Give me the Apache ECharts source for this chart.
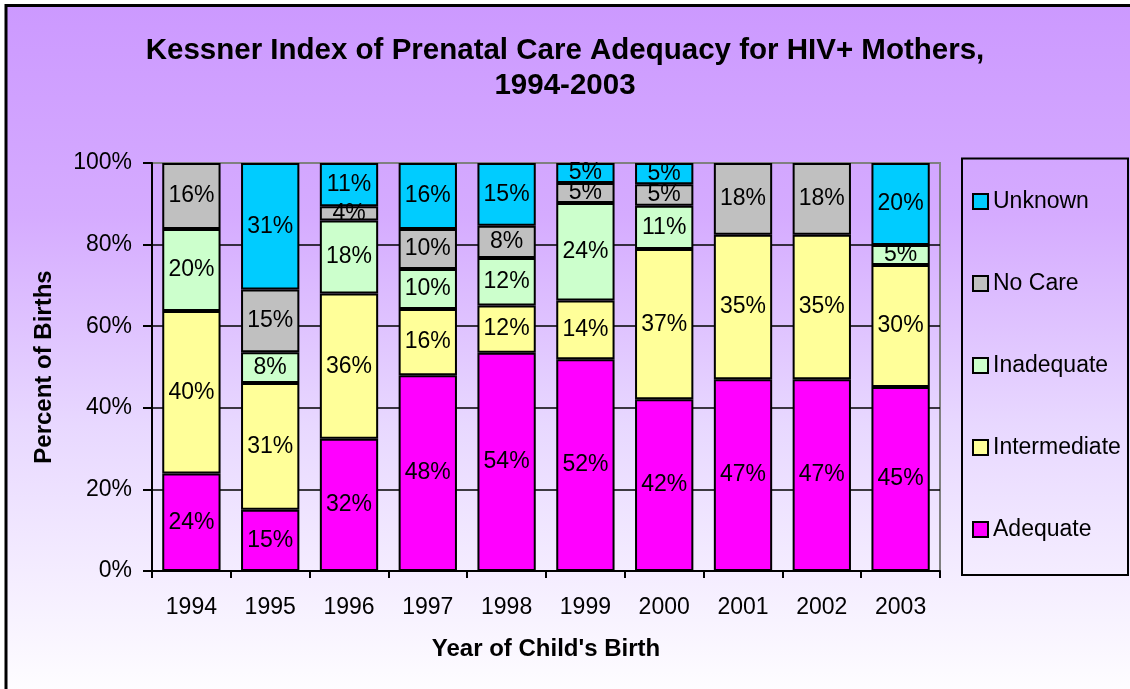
<!DOCTYPE html>
<html>
<head>
<meta charset="utf-8">
<title>Kessner Index of Prenatal Care Adequacy</title>
<script src="https://cdn.jsdelivr.net/npm/echarts@6.0.0/dist/echarts.min.js"></script>
<style>
  html, body { margin: 0; padding: 0; background: #fff; }
  #chart { width: 1130px; height: 689px; }
</style>
</head>
<body>
<div id="chart"></div>
<script>
// years on the x axis
const years = ['1994', '1995', '1996', '1997', '1998', '1999', '2000', '2001', '2002', '2003'];
// percent of births (null = no segment)
const adequate     = [23.9, 15.0, 32.4, 48.0, 53.5, 51.9, 42.1, 47.0, 47.0, 45.1];
const intermediate = [39.8, 31.1, 35.6, 16.2, 11.6, 14.4, 36.8, 35.4, 35.4, 29.9];
const inadequate   = [20.1,  7.5, 17.9,  9.8, 11.6, 23.9, 10.6, null, null,  4.9];
const noCare       = [16.2, 15.4,  3.5,  9.8,  7.9,  4.9,  5.3, 17.6, 17.6, null];
const unknown      = [null, 31.0, 10.6, 16.2, 15.4,  4.9,  5.2, null, null, 20.1];
const yTicks = [0, 20, 40, 60, 80, 100];

const font = 'Liberation Sans, Arial, sans-serif';

const chart = echarts.init(document.getElementById('chart'));

function seg(name, data, color) {
  return {
    name: name,
    type: 'bar',
    stack: 'total',
    data: data,
    barCategoryGap: '26%',
    itemStyle: { color: color, borderColor: '#000', borderWidth: 2 },
    label: {
      show: true,
      position: 'inside',
      color: '#000',
      fontFamily: font,
      fontSize: 23,
      formatter: p => (p.value == null ? '' : Math.round(p.value) + '%')
    },
    emphasis: { disabled: true }
  };
}

const option = {
  animation: false,
  backgroundColor: '#fff',
  graphic: [
    {
      type: 'rect',
      z: -10,
      shape: { x: 6, y: 5.5, width: 1140, height: 700 },
      style: {
        fill: new echarts.graphic.LinearGradient(0, 0, 0, 1, [
          { offset: 0, color: '#CC99FF' },
          { offset: 0.3, color: '#D5ABFF' },
          { offset: 0.6, color: '#E8D8FF' },
          { offset: 1, color: '#FFFFFF' }
        ]),
        stroke: '#000',
        lineWidth: 3
      }
    },
    {
      type: 'rect',
      z: 1,
      shape: { x: 962, y: 158.5, width: 166, height: 416.5 },
      style: { fill: 'none', stroke: '#000', lineWidth: 2 }
    }
  ],
  title: {
    text: 'Kessner Index of Prenatal Care Adequacy for HIV+ Mothers,\n1994-2003',
    left: 'center',
    top: 33,
    padding: [0, 0, 0, 14],
    textStyle: { fontFamily: font, fontSize: 29.5, fontWeight: 'bold', color: '#000', lineHeight: 35, align: 'center' }
  },
  legend: {
    data: ['Unknown', 'No Care', 'Inadequate', 'Intermediate', 'Adequate'],
    orient: 'vertical',
    left: 972,
    top: 190,
    padding: 0,
    itemWidth: 15,
    itemHeight: 15,
    itemGap: 59,
    icon: 'rect',
    textStyle: { fontFamily: font, fontSize: 23, color: '#000' }
  },
  grid: {
    left: 152,
    right: 190,
    top: 163,
    bottom: 118,
    show: true,
    borderColor: '#808080',
    borderWidth: 2
  },
  xAxis: {
    type: 'category',
    data: years,
    name: "Year of Child's Birth",
    nameLocation: 'middle',
    nameGap: 66,
    nameTextStyle: { fontFamily: font, fontSize: 24, fontWeight: 'bold', color: '#000' },
    axisLine: { lineStyle: { color: '#000', width: 2 } },
    axisTick: { show: true, length: 7, lineStyle: { color: '#000', width: 2 } },
    axisLabel: { margin: 25, fontFamily: font, fontSize: 23, color: '#000' }
  },
  yAxis: {
    type: 'value',
    min: yTicks[0],
    max: yTicks[yTicks.length - 1],
    interval: 20,
    name: 'Percent of Births',
    nameLocation: 'middle',
    nameGap: 96,
    nameRotate: 90,
    nameTextStyle: { fontFamily: font, fontSize: 24, fontWeight: 'bold', color: '#000' },
    axisLine: { show: true, lineStyle: { color: '#000', width: 2 } },
    axisTick: { show: true, length: 9, lineStyle: { color: '#000', width: 2 } },
    axisLabel: { margin: 20, fontFamily: font, fontSize: 23, color: '#000', formatter: '{value}%' },
    splitLine: {
      show: true,
      lineStyle: { color: ['#000', '#000', '#000', '#000', '#000', '#808080'], width: 1.5 }
    }
  },
  series: [
    seg('Adequate', adequate, '#FF00FF'),
    seg('Intermediate', intermediate, '#FFFF99'),
    seg('Inadequate', inadequate, '#CCFFCC'),
    seg('No Care', noCare, '#C0C0C0'),
    seg('Unknown', unknown, '#00CCFF')
  ]
};

chart.setOption(option);
</script>
</body>
</html>
